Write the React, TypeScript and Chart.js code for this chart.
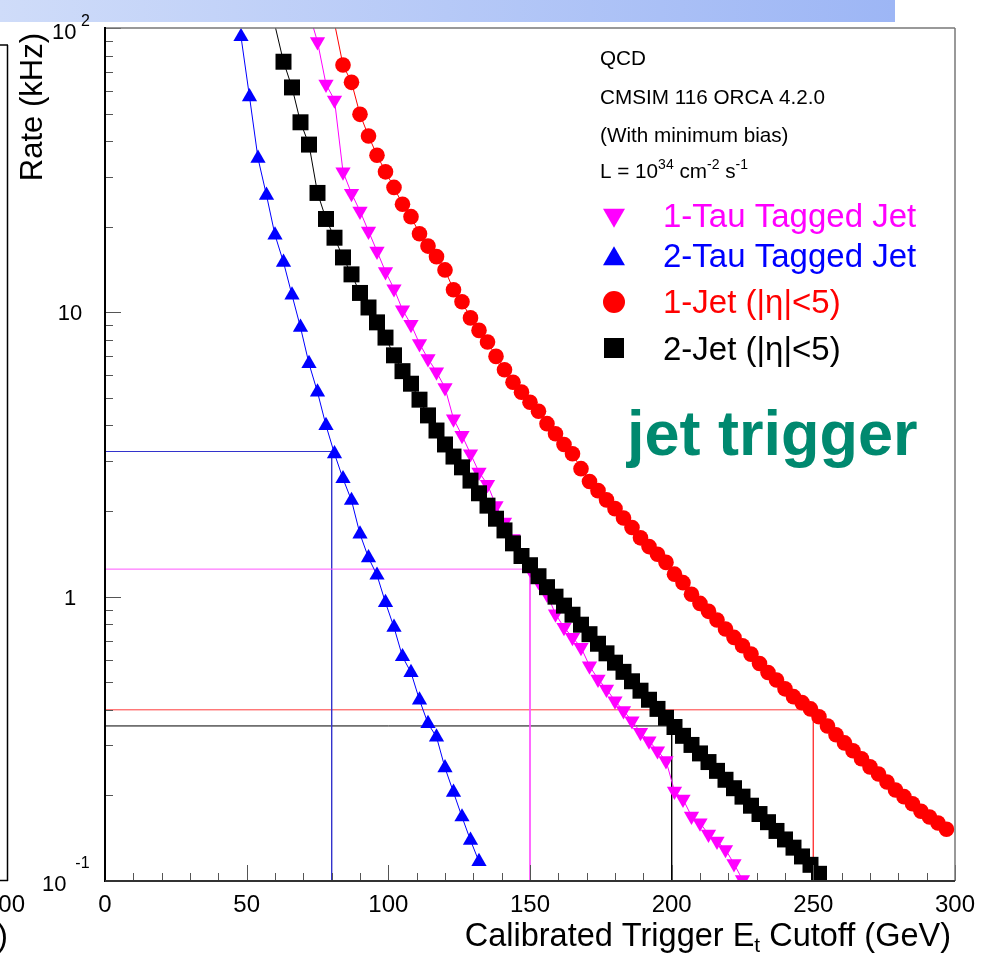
import React, { useEffect, useRef } from "react";
import { Chart, registerables } from "chart.js";

Chart.register(...registerables);

const FONT = '"Liberation Sans", Arial, Helvetica, sans-serif';

// ---------------- data (Et cutoff in GeV, rate in kHz) ----------------
const tau2Et = [48, 51, 54, 57, 60, 63, 66, 69, 72, 75, 78, 81, 84, 87, 90, 93, 96, 99, 102, 105, 108, 111, 114, 117, 120, 123, 126, 129, 132];
const tau2Rate = [93.2, 57.3, 34.8, 25.8, 18.7, 15.0, 11.5, 8.85, 6.6, 5.24, 4.0, 3.18, 2.6, 2.18, 1.66, 1.37, 1.19, 0.953, 0.78, 0.615, 0.541, 0.433, 0.358, 0.321, 0.25, 0.205, 0.168, 0.139, 0.117];

const jet2Et = [60, 63, 66, 69, 72, 75, 78, 81, 84, 87, 90, 93, 96, 99, 102, 105, 108, 111, 114, 117, 120, 123, 126, 129, 132, 135, 138, 141, 144, 147, 150, 153, 156, 159, 162, 165, 168, 171, 174, 177, 180, 183, 186, 189, 192, 195, 198, 201, 204, 207, 210, 213, 216, 219, 222, 225, 228, 231, 234, 237, 240, 243, 246, 249, 252];
const jet2Rate = [102, 76.1, 61.8, 46.6, 38.9, 26.3, 21.3, 18.3, 15.6, 13.6, 11.7, 10.4, 9.22, 8.15, 7.06, 6.21, 5.61, 4.93, 4.34, 3.84, 3.43, 3.11, 2.85, 2.56, 2.31, 2.09, 1.88, 1.71, 1.54, 1.39, 1.29, 1.18, 1.08, 1.0, 0.93, 0.864, 0.797, 0.738, 0.683, 0.632, 0.586, 0.544, 0.504, 0.467, 0.434, 0.403, 0.375, 0.348, 0.324, 0.301, 0.281, 0.262, 0.244, 0.227, 0.212, 0.198, 0.184, 0.172, 0.161, 0.15, 0.14, 0.131, 0.122, 0.114, 0.106];

const tau1Et = [72, 75, 78, 81, 84, 87, 90, 93, 96, 99, 102, 105, 108, 111, 114, 117, 120, 123, 126, 129, 132, 135, 138, 141, 144, 147, 150, 153, 156, 159, 162, 165, 168, 171, 174, 177, 180, 183, 186, 189, 192, 195, 198, 201, 204, 207, 210, 213, 216, 219, 222, 225];
const tau1Rate = [113, 89.5, 63.4, 55.8, 31.2, 26.2, 22.7, 19.3, 16.4, 13.9, 12.1, 10.2, 9.07, 7.76, 6.87, 6.17, 5.43, 4.22, 3.69, 3.18, 2.74, 2.48, 2.09, 1.83, 1.6, 1.42, 1.25, 1.13, 1.02, 0.869, 0.78, 0.719, 0.663, 0.571, 0.513, 0.473, 0.43, 0.397, 0.366, 0.333, 0.311, 0.287, 0.265, 0.207, 0.194, 0.169, 0.16, 0.146, 0.138, 0.129, 0.115, 0.101];

const jet1Et = [81, 84, 87, 90, 93, 96, 99, 102, 105, 108, 111, 114, 117, 120, 123, 126, 129, 132, 135, 138, 141, 144, 147, 150, 153, 156, 159, 162, 165, 168, 171, 174, 177, 180, 183, 186, 189, 192, 195, 198, 201, 204, 207, 210, 213, 216, 219, 222, 225, 228, 231, 234, 237, 240, 243, 246, 249, 252, 255, 258, 261, 264, 267, 270, 273, 276, 279, 282, 285, 288, 291, 294, 297];
const jet1Rate = [104, 74.1, 64.4, 49.7, 41.7, 35.7, 31.2, 27.5, 24.0, 21.7, 18.9, 17.1, 15.7, 14.1, 12.0, 10.9, 9.56, 8.64, 7.86, 7.0, 6.28, 5.68, 5.24, 4.83, 4.49, 4.06, 3.74, 3.43, 3.18, 2.82, 2.54, 2.36, 2.19, 2.04, 1.89, 1.75, 1.61, 1.5, 1.41, 1.32, 1.2, 1.12, 1.02, 0.947, 0.888, 0.828, 0.77, 0.719, 0.672, 0.628, 0.582, 0.541, 0.509, 0.474, 0.445, 0.424, 0.403, 0.378, 0.351, 0.327, 0.306, 0.287, 0.269, 0.252, 0.238, 0.223, 0.209, 0.198, 0.187, 0.176, 0.168, 0.16, 0.152];

// reference cut lines: [1-tau, 2-tau, 1-jet, 2-jet]
const refCut = [150, 80, 250, 200];
const refRate = [1.25, 3.24, 0.4, 0.351];
const refColors = ["#ff55ff", "#3333cc", "#ff3b3b", "#000000"];

const xMajorTicks = [0, 50, 100, 150, 200, 250, 300];
const xMajorLabels = ["0", "50", "100", "150", "200", "250", "300"];
const xMinorTicks = [10, 20, 30, 40, 60, 70, 80, 90, 110, 120, 130, 140, 160, 170, 180, 190, 210, 220, 230, 240, 260, 270, 280, 290];
const yDecades = [0.1, 1, 10, 100];
const yMinorMult = [2, 3, 4, 5, 6, 7, 8, 9];
const Y_MAX = 100;

const infoLines = ["QCD", "CMSIM 116 ORCA 4.2.0", "(With minimum bias)"];
const legendLabels = ["1-Tau Tagged Jet", "2-Tau Tagged Jet", "1-Jet (|\u03b7|<5)", "2-Jet (|\u03b7|<5)"];
const legendColors = ["#ff00ff", "#0000ff", "#ff0000", "#000000"];

type Run = { t: string; size: number; dy: number; bold?: boolean };

function drawRuns(ctx: CanvasRenderingContext2D, x: number, y: number, runs: Run[], color: string, align: "left" | "right" = "left") {
  ctx.fillStyle = color;
  ctx.textAlign = "left";
  ctx.textBaseline = "alphabetic";
  let total = 0;
  for (const r of runs) {
    ctx.font = `${r.bold ? "bold " : ""}${r.size}px ${FONT}`;
    total += ctx.measureText(r.t).width;
  }
  let cx = align === "right" ? x - total : x;
  for (const r of runs) {
    ctx.font = `${r.bold ? "bold " : ""}${r.size}px ${FONT}`;
    ctx.fillText(r.t, cx, y + r.dy);
    cx += ctx.measureText(r.t).width;
  }
}

function triangle(ctx: CanvasRenderingContext2D, x: number, y: number, r: number, down: boolean, color: string) {
  const s = down ? -1 : 1;
  ctx.beginPath();
  ctx.moveTo(x, y - s * r);
  ctx.lineTo(x - r * 0.866, y + s * r * 0.5);
  ctx.lineTo(x + r * 0.866, y + s * r * 0.5);
  ctx.closePath();
  ctx.fillStyle = color;
  ctx.fill();
}

const rootPlugin = {
  id: "rootFrame",
  beforeDraw(chart: any) {
    const ctx: CanvasRenderingContext2D = chart.ctx;
    ctx.save();
    ctx.fillStyle = "#ffffff";
    ctx.fillRect(0, 0, chart.width, chart.height);
    const g = ctx.createLinearGradient(0, 0, 895, 0);
    g.addColorStop(0, "#cfdcf9");
    g.addColorStop(1, "#9db6f5");
    ctx.fillStyle = g;
    ctx.fillRect(0, 0, 895, 22);
    ctx.restore();
  },
  afterDraw(chart: any) {
    const ctx: CanvasRenderingContext2D = chart.ctx;
    const xs = chart.scales.x;
    const ys = chart.scales.y;
    const { left, right, top, bottom } = chart.chartArea;
    ctx.save();

    const seg = (x1: number, y1: number, x2: number, y2: number, color: string, w: number) => {
      ctx.beginPath();
      ctx.strokeStyle = color;
      ctx.lineWidth = w;
      ctx.moveTo(x1, y1);
      ctx.lineTo(x2, y2);
      ctx.stroke();
    };

    // ticks on x axis (inside)
    for (const v of xMinorTicks) {
      const px = Math.round(xs.getPixelForValue(v)) + 0.5;
      seg(px, bottom, px, bottom - 8, "#555", 1);
    }
    for (const v of xMajorTicks) {
      const px = Math.round(xs.getPixelForValue(v)) + 0.5;
      seg(px, bottom, px, bottom - 16, "#555", 1);
    }
    // ticks on y axis (inside)
    for (const d of yDecades) {
      const py = Math.round(ys.getPixelForValue(d)) + 0.5;
      seg(left, py, left + 16, py, "#555", 1);
      if (d < 100) {
        for (const m of yMinorMult) {
          const pm = Math.round(ys.getPixelForValue(d * m)) + 0.5;
          seg(left, pm, left + 8, pm, "#555", 1);
        }
      }
    }

    // frame
    seg(left, top, right, top, "#777", 1.5);
    seg(right, top, right, bottom, "#777", 1.5);
    seg(left, top - 1, left, bottom + 1, "#000", 2);
    seg(left, bottom, right, bottom, "#333", 2);

    // partial neighbouring pad on the left
    seg(0, 45, 8, 45, "#000", 1.5);
    seg(7.5, 45, 7.5, 881, "#000", 1.5);
    seg(0, 880.5, 8, 880.5, "#000", 1.5);
    ctx.font = `24px ${FONT}`;
    ctx.fillStyle = "#000";
    ctx.textAlign = "right";
    ctx.textBaseline = "alphabetic";
    ctx.fillText("300", 25, 912);
    ctx.font = `32px ${FONT}`;
    ctx.fillText("(GeV)", 8, 946);

    // x tick labels
    ctx.font = `24px ${FONT}`;
    ctx.textAlign = "center";
    xMajorTicks.forEach((v, i) => {
      ctx.fillText(xMajorLabels[i], xs.getPixelForValue(v), 912);
    });

    // y tick labels (ROOT-like exponent notation)
    const y100 = ys.getPixelForValue(100);
    const y10 = ys.getPixelForValue(10);
    const y1 = ys.getPixelForValue(1);
    const y01 = ys.getPixelForValue(0.1);
    drawRuns(ctx, 52, y100 + 11, [{ t: "10", size: 22, dy: 0 }, { t: " 2", size: 16, dy: -13 }], "#000");
    ctx.font = `22px ${FONT}`;
    ctx.textAlign = "center";
    ctx.fillStyle = "#000";
    ctx.fillText("10", 70, y10 + 8);
    ctx.fillText("1", 70, y1 + 8);
    drawRuns(ctx, 42, y01 + 10, [{ t: "10", size: 22, dy: 0 }, { t: "  -1", size: 16, dy: -23 }], "#000");

    // axis titles
    drawRuns(ctx, 951, 946, [
      { t: "Calibrated Trigger E", size: 32.5, dy: 0 },
      { t: "t", size: 21, dy: 6 },
      { t: " Cutoff (GeV)", size: 32.5, dy: 0 },
    ], "#000", "right");
    ctx.save();
    ctx.translate(42, 33);
    ctx.rotate(-Math.PI / 2);
    ctx.font = `31px ${FONT}`;
    ctx.textAlign = "right";
    ctx.textBaseline = "alphabetic";
    ctx.fillStyle = "#000";
    ctx.fillText("Rate (kHz)", 0, 0);
    ctx.restore();

    // info text
    ctx.font = `20.7px ${FONT}`;
    ctx.textAlign = "left";
    ctx.fillStyle = "#000";
    const infoY = [65, 104, 141.5];
    infoLines.forEach((t, i) => ctx.fillText(t, 600, infoY[i]));
    drawRuns(ctx, 600, 178, [
      { t: "L = 10", size: 20.7, dy: 0 },
      { t: "34", size: 14, dy: -9 },
      { t: " cm", size: 20.7, dy: 0 },
      { t: "-2", size: 14, dy: -9 },
      { t: " s", size: 20.7, dy: 0 },
      { t: "-1", size: 14, dy: -9 },
    ], "#000");

    // legend
    const legY = [227, 267, 313, 360];
    legendLabels.forEach((t, i) => {
      ctx.font = `33px ${FONT}`;
      ctx.fillStyle = legendColors[i];
      ctx.textAlign = "left";
      ctx.fillText(t, 663, legY[i]);
    });
    triangle(ctx, 614, 215, 12.7, true, legendColors[0]);
    triangle(ctx, 614, 259, 12.7, false, legendColors[1]);
    ctx.beginPath();
    ctx.arc(614, 302, 11, 0, Math.PI * 2);
    ctx.fillStyle = legendColors[2];
    ctx.fill();
    ctx.fillStyle = legendColors[3];
    ctx.fillRect(604, 338, 20, 20);

    // big label
    ctx.font = `bold 63px ${FONT}`;
    ctx.fillStyle = "#00896f";
    ctx.fillText("jet trigger", 627, 455);

    ctx.restore();
  },
};

function toXY(xs: number[], ys: number[]) {
  return xs.map((x, i) => ({ x, y: ys[i] }));
}

export default function App() {
  const ref = useRef<HTMLCanvasElement | null>(null);
  useEffect(() => {
    if (!ref.current) return;
    const series = (label: string, xs: number[], ys: number[], color: string, style: any, radius: number, rotation = 0) => ({
      label,
      data: toXY(xs, ys),
      showLine: true,
      borderColor: color,
      borderWidth: 1,
      backgroundColor: color,
      pointBackgroundColor: color,
      pointBorderColor: color,
      pointBorderWidth: 0,
      pointStyle: style,
      // markers whose centre lies outside the frame are not drawn (ROOT behaviour)
      pointRadius: (c: any) => (c.raw && c.raw.y > Y_MAX ? 0 : radius),
      pointRotation: rotation,
      tension: 0,
      clip: 0,
    });
    const refSets = refCut.map((c, i) => ({
      label: "ref" + i,
      data: [
        { x: 0, y: refRate[i] },
        { x: c, y: refRate[i] },
        { x: c, y: 0.1 },
      ],
      showLine: true,
      borderColor: refColors[i],
      borderWidth: 1,
      pointRadius: 0,
      tension: 0,
      clip: 0,
    }));
    const chart = new Chart(ref.current, {
      type: "scatter",
      data: {
        datasets: [
          series("2-Jet", jet2Et, jet2Rate, "#000000", "rect", 11.3),
          series("1-Tau", tau1Et, tau1Rate, "#ff00ff", "triangle", 8.8, 180),
          series("2-Tau", tau2Et, tau2Rate, "#0000ff", "triangle", 8.8),
          series("1-Jet", jet1Et, jet1Rate, "#ff0000", "circle", 7.8),
          ...refSets,
        ] as any,
      },
      options: {
        responsive: false,
        animation: false,
        devicePixelRatio: 1,
        layout: { padding: { left: 105, right: 27, top: 28, bottom: 73 } },
        plugins: { legend: { display: false }, tooltip: { enabled: false } },
        scales: {
          x: { type: "linear", min: 0, max: 300, display: false },
          y: { type: "logarithmic", min: 0.1, max: Y_MAX, display: false },
        },
      } as any,
      plugins: [rootPlugin as any],
    });
    return () => chart.destroy();
  }, []);
  return (
    <div style={{ position: "absolute", left: 0, top: 0, width: 982, height: 954, background: "#fff" }}>
      <canvas ref={ref} width={982} height={954} style={{ display: "block", width: 982, height: 954 }} />
    </div>
  );
}
